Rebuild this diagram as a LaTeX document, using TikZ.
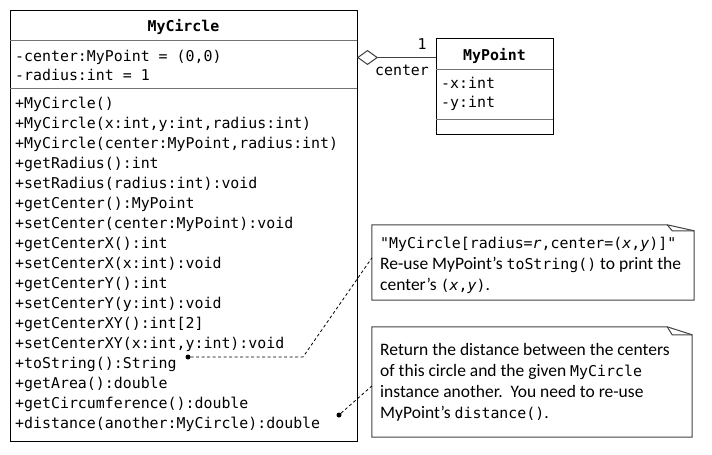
\documentclass[tikz,border=0pt]{standalone}
\usepackage{fontspec}
\setmainfont{Carlito}
\setmonofont{DejaVu Sans Mono}
\usetikzlibrary{arrows.meta, positioning}
\newcommand{\umlfont}{\ttfamily\fontsize{14.9}{20}\selectfont}
\newcommand{\notefont}{\fontsize{17.5}{21}\selectfont}
\newcommand{\mono}[1]{{\ttfamily\fontsize{14.9}{20}\selectfont #1}}
\tikzset{
  classbox/.style={rectangle, draw=black, line width=1pt, inner sep=0pt},
  sepline/.style={draw=black!55, line width=1pt},
  classname/.style={anchor=base, inner sep=0pt, font=\umlfont\bfseries},
  member/.style={anchor=base west, inner sep=0pt, font=\umlfont},
  notebox/.style={draw=black!75, line width=1pt},
  noteline/.style={anchor=base west, inner sep=0pt, font=\notefont},
  notedot/.style={circle, fill=black, inner sep=0pt, minimum size=5pt},
  notelink/.style={draw=black, line width=0.8pt, dash pattern=on 3pt off 2.5pt},
  aggr/.style={draw=black!75, line width=1pt, -{Diamond[open, length=21pt, width=15pt, fill=white]}}
}

\begin{document}
\begin{tikzpicture}[x=1pt, y=-1pt]
    \useasboundingbox (0,0) rectangle (712,455);

    % ==========================================
    % 1. Clase MyCircle
    % ==========================================
    \node[classbox, minimum width=347pt, minimum height=431pt] (mycircle) at (183.5,225.5) {};
    \node[classname] (mycirclename) at (183.5,31) {MyCircle};
    \draw[sepline] (10,40) -- (357,40);

    % Atributos
    \node[member] (attrcenter) at (15,61) {-center:MyPoint = (0,0)};
    \node[member] (attrradius) at (15,80) {-radius:int = 1};
    \draw[sepline] (10,88) -- (357,88);

    % Metodos
    \foreach \i/\txt in {
        0/{+MyCircle()}, 1/{+MyCircle(x:int,y:int,radius:int)},
        2/{+MyCircle(center:MyPoint,radius:int)}, 3/{+getRadius():int},
        4/{+setRadius(radius:int):void}, 5/{+getCenter():MyPoint},
        6/{+setCenter(center:MyPoint):void}, 7/{+getCenterX():int},
        8/{+setCenterX(x:int):void}, 9/{+getCenterY():int},
        10/{+setCenterY(y:int):void}, 11/{+getCenterXY():int[2]},
        12/{+setCenterXY(x:int,y:int):void}, 13/{+toString():String},
        14/{+getArea():double}, 15/{+getCircumference():double},
        16/{+distance(another:MyCircle):double}
    } {
        \node[member] (meth\i) at (15,108+\i*20) {\txt};
    }

    % ==========================================
    % 2. Clase MyPoint
    % ==========================================
    \node[classbox, minimum width=117pt, minimum height=96pt] (mypoint) at (494.5,86) {};
    \node[classname] (mypointname) at (494.5,60) {MyPoint};
    \draw[sepline] (436,69) -- (553,69);
    \node[member] (attrx) at (441,88) {-x:int};
    \node[member] (attry) at (441,107) {-y:int};
    \draw[sepline] (436,119) -- (553,119);

    % Agregacion
    \coordinate (agg) at (357,57.5);
    \draw[aggr] (agg -| mypoint.west) -- (agg);
    \node[member, anchor=base] (mult) at (422,49) {1};
    \node[member, anchor=base] (role) at (402,75) {center};

    % ==========================================
    % 3. Notas
    % ==========================================
    \node[minimum width=322pt, minimum height=75pt] (noteA) at (533,262.5) {};
    \draw[notebox] (noteA.north west) -- ([xshift=-27pt]noteA.north east)
        -- ([yshift=-6pt]noteA.north east) -- (noteA.south east)
        -- (noteA.south west) -- cycle;
    \draw[notebox] ([xshift=-27pt]noteA.north east) -- ([xshift=-22pt, yshift=-6pt]noteA.north east)
        -- ([yshift=-6pt]noteA.north east);
    \node[noteline] (noteAl1) at (380,248) {\mono{"MyCircle[radius=\textit{r},center=(\textit{x},\textit{y})]"}};
    \node[noteline] (noteAl2) at (380,269) {Re-use MyPoint’s \mono{toString()} to print the};
    \node[noteline] (noteAl3) at (380,290) {center’s \mono{(\textit{x},\textit{y})}.};

    \node[minimum width=320pt, minimum height=110pt] (noteB) at (532,382) {};
    \draw[notebox] (noteB.north west) -- ([xshift=-25pt]noteB.north east)
        -- ([yshift=-8pt]noteB.north east) -- (noteB.south east)
        -- (noteB.south west) -- cycle;
    \draw[notebox] ([xshift=-25pt]noteB.north east) -- ([xshift=-20pt, yshift=-8pt]noteB.north east)
        -- ([yshift=-8pt]noteB.north east);
    \node[noteline] (noteBl1) at (380,355) {Return the distance between the centers};
    \node[noteline] (noteBl2) at (380,376) {of this circle and the given \mono{MyCircle}};
    \node[noteline] (noteBl3) at (380,397) {instance another.\ \ You need to re-use};
    \node[noteline] (noteBl4) at (380,418) {MyPoint’s \mono{distance()}.};

    % Enlaces de las notas
    \node[notedot] (dotA) at (188,357) {};
    \coordinate (bendA) at (303,357);
    \draw[notelink] (dotA) -- (bendA) -- ([yshift=4.5pt]noteA.west);
    \node[notedot] (dotB) at (339,415) {};
    \draw[notelink] (dotB) -- ([yshift=-4pt]noteB.west);

\end{tikzpicture}
\end{document}
